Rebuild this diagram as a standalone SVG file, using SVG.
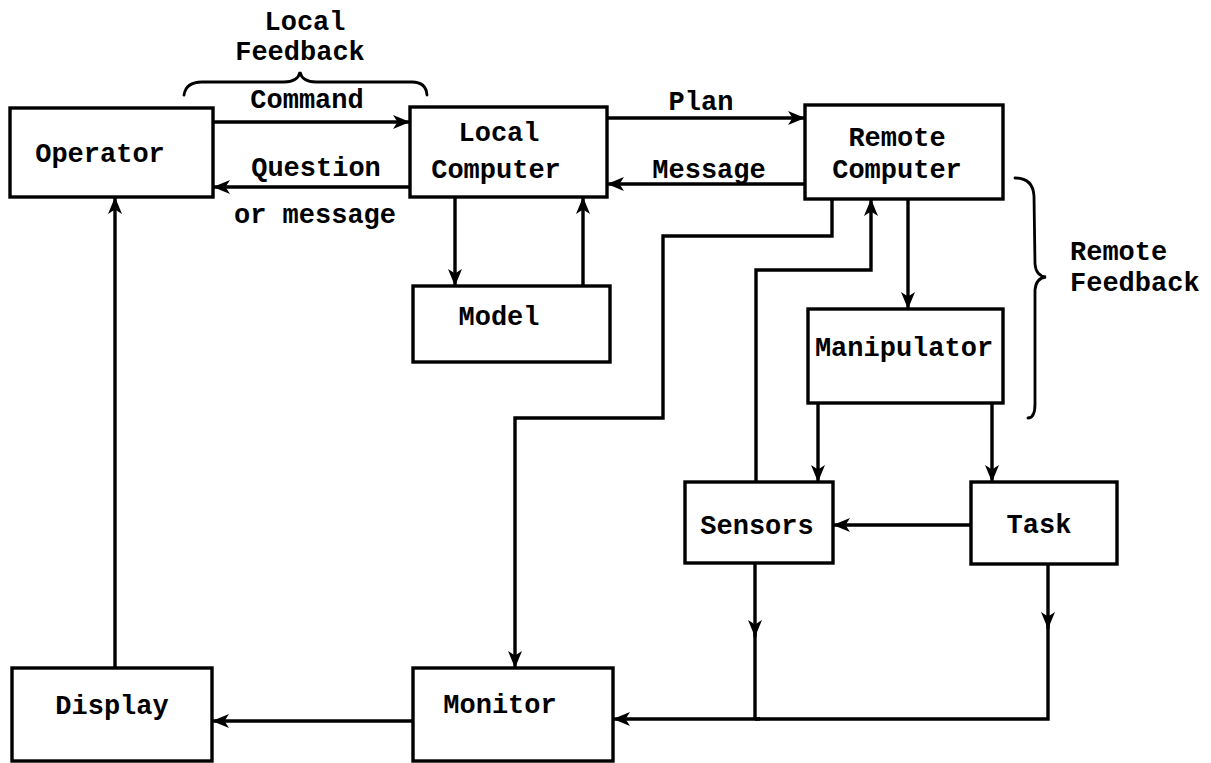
<svg xmlns="http://www.w3.org/2000/svg" width="1211" height="763" viewBox="0 0 1211 763">
<style>
.box{fill:#fff;stroke:#000;stroke-width:3.4}
.ln{fill:none;stroke:#000;stroke-width:3.4}
.br{fill:none;stroke:#000;stroke-width:2.8;stroke-linecap:round}
text{font-family:"Liberation Mono","Courier New",monospace;font-weight:bold;font-size:27px;fill:#000}
.m{text-anchor:middle}
</style>
<defs>
<marker id="ah" markerUnits="userSpaceOnUse" markerWidth="18" markerHeight="16" refX="17" refY="8" orient="auto">
<path d="M0,1 L17,8 L0,15 L4.5,8 z" fill="#000"/>
</marker>
</defs>
<rect width="1211" height="763" fill="#fff"/>
<g id="connectors">
<path class="ln" d="M213,122 L410,122" marker-end="url(#ah)"/>
<path class="ln" d="M410,187 L213,187" marker-end="url(#ah)"/>
<path class="ln" d="M607,118 L805,118" marker-end="url(#ah)"/>
<path class="ln" d="M805,184 L607,184" marker-end="url(#ah)"/>
<path class="ln" d="M455,197 L455,286" marker-end="url(#ah)"/>
<path class="ln" d="M583,286 L583,197" marker-end="url(#ah)"/>
<path class="ln" d="M908,199 L908,309" marker-end="url(#ah)"/>
<path class="ln" d="M818,403 L818,482" marker-end="url(#ah)"/>
<path class="ln" d="M992,403 L992,482" marker-end="url(#ah)"/>
<path class="ln" d="M971,525 L833,525" marker-end="url(#ah)"/>
<path class="ln" d="M756,482 L756,270 L871,270 L871,199" marker-end="url(#ah)"/>
<path class="ln" d="M832,199 L832,236 L663,236 L663,418 L515,418 L515,668" marker-end="url(#ah)"/>
<path class="ln" d="M755,563 L755,637" marker-end="url(#ah)"/>
<path class="ln" d="M755,630 L755,719"/>
<path class="ln" d="M1048,564 L1048,629" marker-end="url(#ah)"/>
<path class="ln" d="M1048,622 L1048,719 L755,719"/>
<path class="ln" d="M760,719 L613,719" marker-end="url(#ah)"/>
<path class="ln" d="M413,721 L212,721" marker-end="url(#ah)"/>
<path class="ln" d="M115,668 L115,197" marker-end="url(#ah)"/>
</g>
<g id="local-feedback">
<path class="br" d="M184,95 Q186,82 202,82 L284,82 Q298,82 300,72 Q302,82 316,82 L412,82 Q426,82 427,95"/>
<text class="m" x="305" y="30">Local</text>
<text class="m" x="300" y="60">Feedback</text>
</g>
<g id="remote-feedback">
<path class="br" d="M1015,178 Q1033,178 1034,196 L1035,264 Q1036,276 1046,277 Q1036,278 1035,290 L1035,404 Q1035,418 1028,418"/>
<text x="1070" y="260">Remote</text>
<text x="1070" y="291">Feedback</text>
</g>
<g id="labels">
<text class="m" x="307" y="108">Command</text>
<text class="m" x="316" y="176">Question</text>
<text class="m" x="315" y="223">or message</text>
<text class="m" x="701" y="110">Plan</text>
<text class="m" x="709" y="178">Message</text>
</g>
<g id="operator"><rect class="box" x="10" y="108" width="203" height="89"/><text class="m" x="100" y="162">Operator</text></g>
<g id="local-computer"><rect class="box" x="410" y="107" width="197" height="90"/><text class="m" x="499" y="141">Local</text><text class="m" x="496" y="178">Computer</text></g>
<g id="remote-computer"><rect class="box" x="805" y="105" width="198" height="94"/><text class="m" x="897" y="146">Remote</text><text class="m" x="897" y="178">Computer</text></g>
<g id="model"><rect class="box" x="413" y="286" width="197" height="76"/><text class="m" x="499" y="325">Model</text></g>
<g id="manipulator"><rect class="box" x="808" y="309" width="195" height="94"/><text class="m" x="904" y="356">Manipulator</text></g>
<g id="sensors"><rect class="box" x="685" y="482" width="148" height="81"/><text class="m" x="757" y="534">Sensors</text></g>
<g id="task"><rect class="box" x="971" y="482" width="146" height="82"/><text class="m" x="1039" y="533">Task</text></g>
<g id="display"><rect class="box" x="12" y="668" width="200" height="93"/><text class="m" x="112" y="714">Display</text></g>
<g id="monitor"><rect class="box" x="413" y="668" width="200" height="93"/><text class="m" x="500" y="713">Monitor</text></g>
</svg>
